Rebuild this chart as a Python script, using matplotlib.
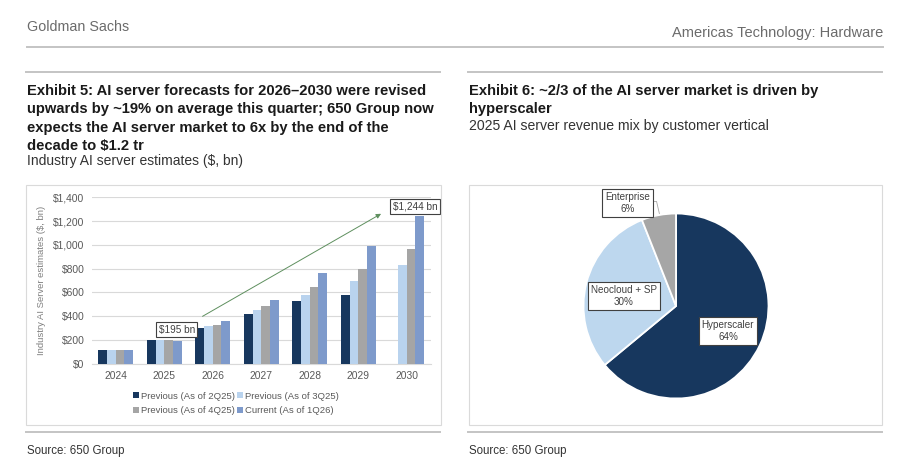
import numpy as np
import matplotlib
matplotlib.use('Agg')
import matplotlib.pyplot as plt
from matplotlib.patches import Rectangle
from matplotlib.lines import Line2D
from matplotlib.ticker import FuncFormatter

plt.rcParams['font.family'] = ['Liberation Sans', 'DejaVu Sans']

# Exhibit 5 data ($ bn)
years = ['2024', '2025', '2026', '2027', '2028', '2029', '2030']
prev_2q25 = [112, 196, 300, 415, 525, 581, np.nan]
prev_3q25 = [112, 196, 317, 449, 581, 698, 833]
prev_4q25 = [112, 196, 323, 482, 645, 799, 962]
current_1q26 = [112, 195, 356, 539, 763, 987, 1244]
series_names = ['Previous (As of 2Q25)', 'Previous (As of 3Q25)',
                'Previous (As of 4Q25)', 'Current (As of 1Q26)']
series_colors = ['#17375E', '#B9D3EE', '#A5A5A5', '#7E9ACB']

# Exhibit 6 data (%)
pie_labels = ['Hyperscaler', 'Neocloud + SP', 'Enterprise']
pie_values = [64, 30, 6]
pie_colors = ['#17375E', '#BDD7EE', '#A6A6A6']

W, H = 900, 468
fig = plt.figure(figsize=(9, 4.68), dpi=100)


def fx(px):
    return px / W


def fy(py):
    return 1 - py / H


def hline(x0, x1, y, color='#C4C4C4', lw=1.4):
    fig.add_artist(Line2D([fx(x0), fx(x1)], [fy(y), fy(y)], color=color, lw=lw))


# header
fig.text(fx(27), fy(27), 'Goldman Sachs', fontsize=10.3, color='#6B6B6B', va='center')
fig.text(fx(883), fy(33), 'Americas Technology: Hardware', fontsize=10.5,
         color='#6B6B6B', va='center', ha='right')
hline(27, 883, 47)
hline(26, 440, 72)
hline(468, 882, 72)
hline(26, 440, 432)
hline(468, 882, 432)

# titles
left_title = ['Exhibit 5: AI server forecasts for 2026\u20132030 were revised',
              'upwards by ~19% on average this quarter; 650 Group now',
              'expects the AI server market to 6x by the end of the',
              'decade to $1.2 tr']
for i, line in enumerate(left_title):
    fig.text(fx(27), fy(91 + i * 18.3), line, fontsize=10.6, fontweight='bold',
             color='#1A1A1A', va='center')
fig.text(fx(27), fy(160.5), 'Industry AI server estimates ($, bn)', fontsize=10,
         color='#333333', va='center')

right_title = ['Exhibit 6: ~2/3 of the AI server market is driven by', 'hyperscaler']
for i, line in enumerate(right_title):
    fig.text(fx(469), fy(91 + i * 18.3), line, fontsize=10.6, fontweight='bold',
             color='#1A1A1A', va='center')
fig.text(fx(469), fy(126), '2025 AI server revenue mix by customer vertical',
         fontsize=10.1, color='#333333', va='center')

fig.text(fx(27), fy(451), 'Source: 650 Group', fontsize=8.3, color='#333333', va='center')
fig.text(fx(469), fy(451), 'Source: 650 Group', fontsize=8.3, color='#333333', va='center')

# panel frames
for x0, x1 in [(25.5, 440.5), (469, 882)]:
    fig.add_artist(Rectangle((fx(x0), fy(425)), fx(x1) - fx(x0), fy(185) - fy(425),
                             fill=False, edgecolor='#DADADA', lw=0.8))

# bar chart
ax = fig.add_axes([fx(91.5), fy(363.7), (431 - 91.5) / W, (363.7 - 197.3) / H])
x = np.arange(len(years))
w = 0.18
all_series = [prev_2q25, prev_3q25, prev_4q25, current_1q26]
handles = []
for k, (vals, name, col) in enumerate(zip(all_series, series_names, series_colors)):
    b = ax.bar(x + (k - 1.5) * w, vals, width=w, color=col, label=name, zorder=3)
    handles.append(b)

ax.set_xlim(-0.5, 6.5)
ax.set_ylim(0, 1400)
ax.set_yticks(np.arange(0, 1401, 200))
ax.yaxis.set_major_formatter(FuncFormatter(lambda v, p: f'${v:,.0f}'))
ax.set_xticks(x)
ax.set_xticklabels(years)
ax.tick_params(length=0, labelsize=7.4, labelcolor='#595959', pad=5)
ax.grid(axis='y', color='#D9D9D9', lw=0.8, zorder=0)
for s in ['top', 'right', 'left']:
    ax.spines[s].set_visible(False)
ax.spines['bottom'].set_color('#D9D9D9')
ax.set_ylabel('Industry AI Server estimates ($, bn)', fontsize=6.8, color='#7F7F7F', labelpad=5)

ax.annotate('', xy=(5.52, 1273), xytext=(1.74, 387),
            arrowprops=dict(arrowstyle='-|>', color='#5E8F5E', lw=0.7, mutation_scale=7))
box = dict(boxstyle='square,pad=0.25', facecolor='white', edgecolor='#404040', lw=0.8)
ax.text(1.26, 286, '$195 bn', fontsize=7.2, color='#404040', ha='center', va='center', bbox=box)
ax.text(6.17, 1320, '$1,244 bn', fontsize=7.2, color='#404040', ha='center', va='center', bbox=box)

order = [0, 2, 1, 3]
fig.legend([handles[i] for i in order], [series_names[i] for i in order],
           ncol=2, loc='center', bbox_to_anchor=(fx(236), fy(403.5)), frameon=False,
           fontsize=6.8, labelcolor='#595959', handlelength=0.6, handleheight=0.6,
           handletextpad=0.2, columnspacing=0.3, labelspacing=0.6, borderpad=0)

# pie chart
r = 92.5
cx, cy = 676, 306
pax = fig.add_axes([fx(cx - r), fy(cy + r), 2 * r / W, 2 * r / H])
pax.pie(pie_values, colors=pie_colors, startangle=90, counterclock=False,
        wedgeprops=dict(edgecolor='white', linewidth=1.3))
pax.set_xlim(-1, 1)
pax.set_ylim(-1, 1)
pbox = dict(boxstyle='square,pad=0.32', facecolor='white', edgecolor='#404040', lw=0.8)
label_pos = [(0.562, -0.27), (-0.562, 0.108), (-0.524, 1.114)]
for lab, val, (lx, ly) in zip(pie_labels, pie_values, label_pos):
    pax.text(lx, ly, f'{lab}\n{val}%', fontsize=7.1, color='#404040', ha='center',
             va='center', bbox=pbox, linespacing=1.15, clip_on=False)
pax.plot([-0.245, -0.21, -0.18], [1.13, 1.13, 1.0], color='#A6A6A6', lw=0.6, clip_on=False)

fig.savefig('out.png', dpi=100, facecolor='white')
